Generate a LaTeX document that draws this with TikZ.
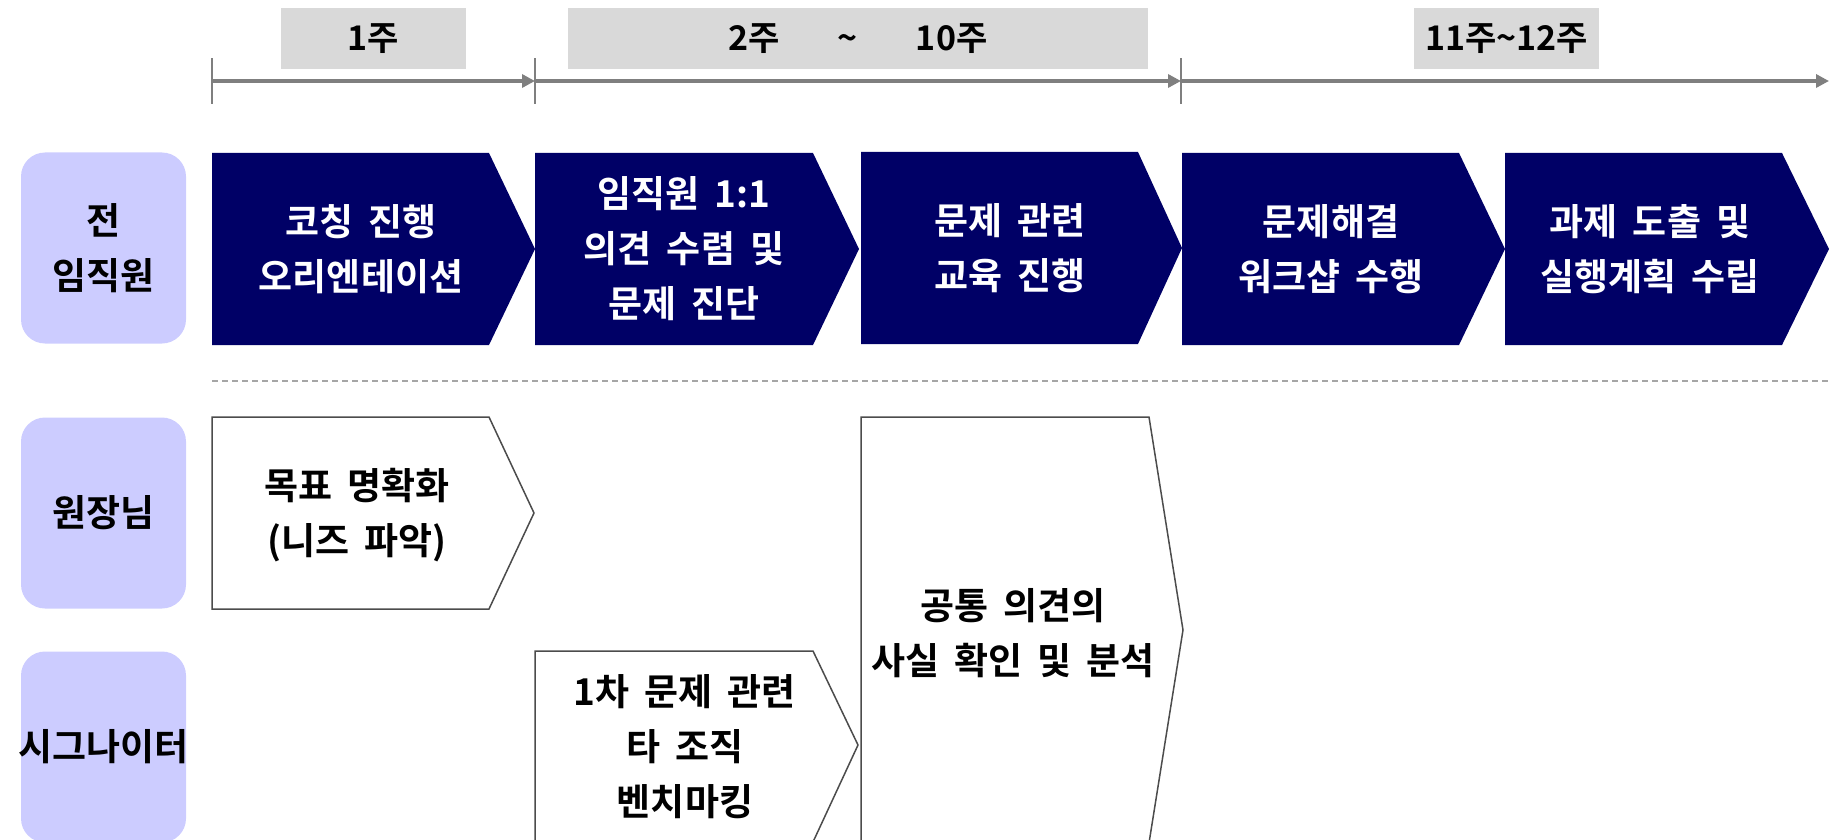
\documentclass[tikz,border=0pt]{standalone}
\usepackage{fontspec}
\setmainfont{Noto Sans CJK KR}[BoldFont={Noto Sans CJK KR Bold}]
\usetikzlibrary{arrows.meta}
\definecolor{phaseblue}{RGB}{0,0,102}
\definecolor{rolefill}{RGB}{204,204,255}
\definecolor{weekfill}{RGB}{217,217,217}
\definecolor{axisgray}{RGB}{127,127,127}
\tikzset{
  big/.style = {font=\bfseries\fontsize{37pt}{55pt}\selectfont, align=center,
    execute at begin node={\spaceskip=15pt\relax}},
  week/.style = {fill=weekfill, minimum height=61pt, inner sep=0pt, font=\bfseries\fontsize{34pt}{40pt}\selectfont},
  role/.style = {big, fill=rolefill, rounded corners=24pt, minimum width=165pt, minimum height=191pt, inner sep=0pt},
  phase/.style = {fill=phaseblue},
  phasetxt/.style = {big, text=white},
  task/.style = {draw=black!70, line width=1.5pt, fill=white},
  tasktxt/.style = {big},
  axis/.style = {axisgray, line width=4pt, -{Triangle[length=13pt,width=13pt]}},
  tick/.style = {axisgray, line width=2pt},
  lane/.style = {black!35, line width=2pt, dash pattern=on 6pt off 4pt}
}

\begin{document}
\begin{tikzpicture}[x=1pt, y=-1pt]
  \clip (0,0) rectangle (1837,840);

  \node [week, minimum width=185pt] (wk1) at (373.5,38.5) {1주};
  \node [week, minimum width=580pt] (wk2) at (858,38.5) {2주\hspace{58pt}\textasciitilde\hspace{58pt}10주};
  \node [week, minimum width=185pt] (wk3) at (1506.5,38.5) {11주\textasciitilde12주};

  \coordinate (t0) at (212,81);
  \coordinate (t1) at (535,81);
  \coordinate (t2) at (1181,81);
  \coordinate (t3) at (1829,81);
  \foreach \t in {t0,t1,t2}
    \draw [tick] ([yshift=-23pt]\t) -- ([yshift=23pt]\t);
  \draw [axis] (t0) -- (t1);
  \draw [axis] (t1) -- (t2);
  \draw [axis] (t2) -- (t3);

  \node [role] (all) at (103.5,248) {전\\임직원};
  \node [role] (head) at (103.5,513) {원장님};
  \node [role] (signa) at (103.5,747) {\makebox[0pt]{시그나이터}};

  \coordinate (d0) at (212,381);
  \coordinate (d1) at (1829,381);
  \draw [lane] (d0) -- (d1);

  \fill [phase] (212,153) -- (489,153) -- (535,249) -- (489,345) -- (212,345) -- cycle;
  \node [phasetxt] (p1) at (361,249) {코칭 진행\\오리엔테이션};
  \fill [phase] (535,153) -- (813,153) -- (859,249) -- (813,345) -- (535,345) -- cycle;
  \node [phasetxt] (p2) at (684,249) {임직원 1:1\\의견 수렴 및\\문제 진단};
  \fill [phase] (861,152) -- (1138,152) -- (1182,248) -- (1138,344) -- (861,344) -- cycle;
  \node [phasetxt] (p3) at (1010,248) {문제 관련\\교육 진행};
  \fill [phase] (1182,153) -- (1459,153) -- (1505,249) -- (1459,345) -- (1182,345) -- cycle;
  \node [phasetxt] (p4) at (1331,249) {문제해결\\워크샵 수행};
  \fill [phase] (1505,153) -- (1782,153) -- (1829,249) -- (1782,345) -- (1505,345) -- cycle;
  \node [phasetxt] (p5) at (1650,249) {과제 도출 및\\실행계획 수립};

  \filldraw [task] (212,417) -- (489,417) -- (534,513) -- (489,609) -- (212,609) -- cycle;
  \node [tasktxt] (goal) at (357,515) {목표 명확화\\(니즈 파악)};
  \filldraw [task] (535,651) -- (813,651) -- (858,745) -- (813,842) -- (535,842) -- cycle;
  \node [tasktxt] (bench) at (685,747) {1차 문제 관련\\타 조직\\벤치마킹};
  \filldraw [task] (861,417) -- (1149,417) -- (1183,630) -- (1149,843) -- (861,843) -- cycle;
  \node [tasktxt] (fact) at (1013,633) {공통 의견의\\사실 확인 및 분석};
\end{tikzpicture}
\end{document}
